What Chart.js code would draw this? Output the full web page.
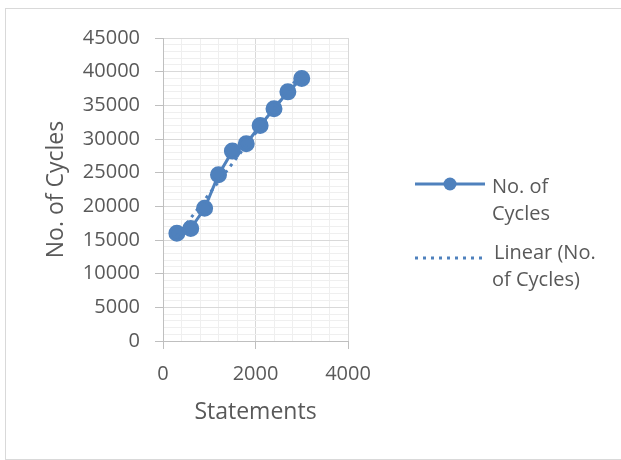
<!DOCTYPE html>
<html>
<head>
<meta charset="utf-8">
<script src="https://cdn.jsdelivr.net/npm/chart.js@4"></script>
<style>
  html, body { margin: 0; padding: 0; background: #fff; overflow: hidden; }
  #frame { position: absolute; left: 5px; top: 8px; width: 650px; height: 450px; border: 1px solid #d9d9d9; }
  #cycleChart { position: absolute; left: 0; top: 0; }
</style>
</head>
<body>
<div id="frame"></div>
<canvas id="cycleChart" width="621" height="460"></canvas>
<script>
// values
const statements = [300, 600, 900, 1200, 1500, 1800, 2100, 2400, 2700, 3000];
const cycles = [16000, 16700, 19700, 24700, 28200, 29300, 32000, 34500, 37000, 39000];
// linear trendline end points (as drawn)
const trendX = [300, 3000];
const trendY = [15550, 39880];

const seriesName = 'No. of Cycles';
const trendName = 'Linear (No. of Cycles)';
const xTitle = 'Statements';
const yTitle = 'No. of Cycles';

const blue = '#4F81BD';
const textGray = '#595959';
const font = 'Open Sans';

const toPoints = (xs, ys) => xs.map((x, i) => ({ x: x, y: ys[i] }));

// legend drawn on the canvas, wrapped like the original
const sideLegend = {
    id: 'sideLegend',
    afterDraw(chart) {
        const ctx = chart.ctx;
        ctx.save();
        ctx.strokeStyle = blue;
        ctx.lineWidth = 3;
        ctx.beginPath();
        ctx.moveTo(415, 184);
        ctx.lineTo(485, 184);
        ctx.stroke();
        ctx.fillStyle = blue;
        ctx.beginPath();
        ctx.arc(450, 184, 6.5, 0, Math.PI * 2);
        ctx.fill();

        ctx.setLineDash([3, 5]);
        ctx.beginPath();
        ctx.moveTo(415, 258);
        ctx.lineTo(482, 258);
        ctx.stroke();
        ctx.setLineDash([]);

        ctx.fillStyle = textGray;
        ctx.font = '20px "' + font + '"';
        ctx.textBaseline = 'alphabetic';
        ctx.textAlign = 'left';
        ctx.fillText('No. of', 492, 193);
        ctx.fillText('Cycles', 492, 220);
        ctx.fillText('Linear (No.', 494, 259);
        ctx.fillText('of Cycles)', 492, 286);
        ctx.restore();
    }
};

const data = {
    datasets: [{
        label: trendName,
        data: toPoints(trendX, trendY),
        showLine: true,
        borderColor: blue,
        borderWidth: 3,
        borderDash: [3, 5],
        pointRadius: 0,
        order: 0
    }, {
        label: seriesName,
        data: toPoints(statements, cycles),
        showLine: true,
        borderColor: blue,
        backgroundColor: blue,
        borderWidth: 3,
        pointRadius: 7,
        pointBackgroundColor: blue,
        pointBorderColor: blue,
        order: 1
    }]
};

const config = {
    type: 'scatter',
    data: data,
    plugins: [sideLegend],
    options: {
        responsive: false,
        animation: false,
        events: [],
        layout: {
            padding: { left: 40, top: 38, right: 273, bottom: 19 }
        },
        plugins: {
            legend: { display: false },
            tooltip: { enabled: false }
        },
        scales: {
            x: {
                type: 'linear',
                min: 0,
                max: 4000,
                afterFit(scale) { scale.height = 100; },
                border: { color: '#bfbfbf', width: 1 },
                grid: {
                    color: (c) => c.tick && c.tick.value % 2000 === 0 ? '#d9d9d9' : '#efefef',
                    tickColor: (c) => c.tick && c.tick.value % 2000 === 0 ? '#bfbfbf' : 'rgba(0,0,0,0)',
                    tickLength: 8
                },
                ticks: {
                    stepSize: 400,
                    autoSkip: false,
                    maxRotation: 0,
                    padding: 13,
                    color: textGray,
                    font: { family: font, size: 20 },
                    callback: (v) => v % 2000 === 0 ? String(v) : ''
                },
                title: {
                    display: true,
                    text: xTitle,
                    color: textGray,
                    font: { family: font, size: 23 },
                    padding: { top: 0, bottom: 15 }
                }
            },
            y: {
                min: 0,
                max: 45000,
                afterFit(scale) { scale.width = 123; },
                border: { color: '#bfbfbf', width: 1 },
                grid: {
                    color: (c) => c.tick && c.tick.value % 5000 === 0 ? '#d9d9d9' : '#efefef',
                    tickColor: (c) => c.tick && c.tick.value % 5000 === 0 ? '#bfbfbf' : 'rgba(0,0,0,0)',
                    tickLength: 8
                },
                ticks: {
                    stepSize: 1000,
                    autoSkip: false,
                    padding: 15,
                    color: textGray,
                    font: { family: font, size: 20 },
                    callback: (v) => v % 5000 === 0 ? String(v) : ''
                },
                title: {
                    display: true,
                    text: yTitle,
                    color: textGray,
                    font: { family: font, size: 23 },
                    padding: { top: 3, bottom: 0 }
                }
            }
        }
    }
};

window.onload = function() {
    const ctx = document.getElementById('cycleChart').getContext('2d');
    new Chart(ctx, config);
};
</script>
</body>
</html>
